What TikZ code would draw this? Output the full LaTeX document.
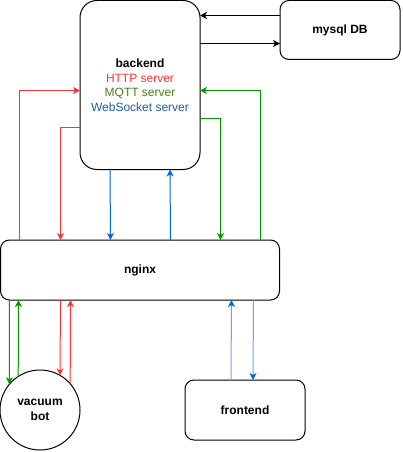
\documentclass[tikz,border=0pt]{standalone}
\usepackage{fontspec}
\setmainfont{Liberation Sans}
\usetikzlibrary{arrows.meta}
\definecolor{cred}{HTML}{FF3333}
\definecolor{cgreen}{HTML}{009900}
\definecolor{cblue}{HTML}{0066CC}
\definecolor{clblue}{HTML}{6FA3E0}
\definecolor{tgreen}{HTML}{4A7F1C}
\definecolor{tblue}{HTML}{1E5AA8}
\begin{document}
\begin{tikzpicture}[x=1pt,y=-1pt,
  box/.style={draw, line width=1pt, inner sep=0pt, outer sep=0pt, align=center,
    font=\fontsize{12}{14.5}\selectfont},
  tip/.style={-{Stealth[length=7pt,width=7pt,inset=2pt]}},
  conn/.style={tip, line width=1pt},
  redc/.style={conn, draw=cred},
  greenc/.style={conn, draw=cgreen},
  bluec/.style={conn, draw=cblue},
  lbluec/.style={line width=1pt, draw=clblue, -{Stealth[length=7pt,width=7pt,inset=2pt,color=cblue]}},
  blackc/.style={conn, draw=black}]
\useasboundingbox (0,0) rectangle (402,452);

\node[box, rounded corners=17pt, minimum width=120pt, minimum height=169pt] (backend) at (140,85)
  {\textbf{backend}\\{\color{cred}HTTP server}\\{\color{tgreen}MQTT server}\\{\color{tblue}WebSocket server}};
\node[box, rounded corners=9pt, minimum width=120pt, minimum height=59pt] (mysql) at (340,30) {\textbf{mysql DB}};
\node[box, rounded corners=9pt, minimum width=279pt, minimum height=60pt] (nginx) at (140,270) {\textbf{nginx}};
\node[box, circle, minimum size=80pt] (bot) at (40,410) {\textbf{vacuum}\\\textbf{bot}};
\node[box, rounded corners=9pt, minimum width=120pt, minimum height=60pt] (frontend) at (245,410) {\textbf{frontend}};

% mysql <-> backend
\draw[blackc] ([yshift=-15pt]mysql.north west) -- ([yshift=-15pt]backend.north east);
\draw[blackc] ([yshift=-43pt]backend.north east) -- ([yshift=-43pt]mysql.north west);

% HTTP (red) nginx <-> backend
\draw[redc] ([xshift=19pt]nginx.north west) |- ([yshift=-90pt]backend.north west);
\draw[redc] ([yshift=-127pt]backend.north west) -| ([xshift=60pt]nginx.north west);

% WebSocket (blue) nginx <-> backend
\draw[bluec] ([xshift=30pt]backend.south west) -- ([xshift=110pt]nginx.north west);
\draw[bluec] ([xshift=170pt]nginx.north west) -- ([xshift=90pt]backend.south west);

% MQTT (green) nginx <-> backend
\draw[greenc] ([yshift=-118pt]backend.north east) -| ([xshift=220pt]nginx.north west);
\draw[greenc] ([xshift=260pt]nginx.north west) |- ([yshift=-90pt]backend.north east);

% bot <-> nginx
\draw[greenc] ([xshift=9pt]nginx.south west) -- (bot.140.8);
\draw[greenc] (bot.123.4) -- ([xshift=18pt]nginx.south west);
\draw[redc] ([xshift=60pt]nginx.south west) -- (bot.60);
\draw[redc] (bot.41.4) -- ([xshift=70pt]nginx.south west);

% frontend <-> nginx
\draw[lbluec] ([xshift=46pt]frontend.north west) -- ([xshift=231pt]nginx.south west);
\draw[lbluec] ([xshift=253pt]nginx.south west) -- ([xshift=68pt]frontend.north west);
\end{tikzpicture}
\end{document}
